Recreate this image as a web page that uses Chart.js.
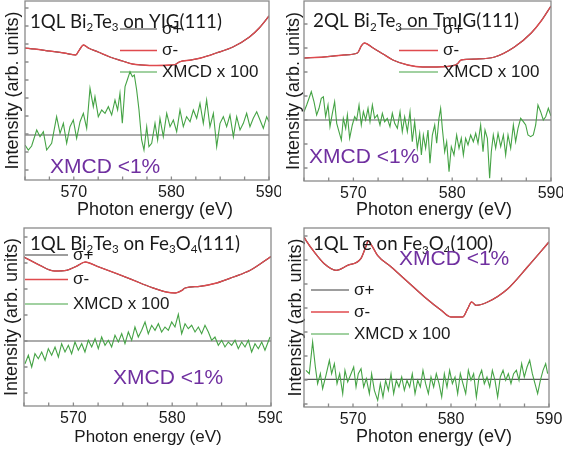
<!DOCTYPE html>
<html lang="en">
<head>
<meta charset="UTF-8">
<title>XMCD at the Te M edge</title>
<script src="https://cdn.jsdelivr.net/npm/chart.js@4.4.1/dist/chart.umd.min.js"></script>
<style>
  body { margin: 0; background: #fff; width: 563px; height: 455px; overflow: hidden; position: relative; }
  canvas { position: absolute; }
</style>
</head>
<body>
<canvas id="p1"></canvas>
<canvas id="p2"></canvas>
<canvas id="p3"></canvas>
<canvas id="p4"></canvas>
<script>
// photon energy axis (eV)
var xMin = 565, xMax = 590;
var xTickLabels = [570, 580, 590];
var xTitle = "Photon energy (eV)";
var yTitle = "Intensity (arb. units)";

var legendLabels = ["σ+", "σ-", "XMCD x 100"];
var noteText = "XMCD <1%";

// panel titles, [text, isSubscript]
var title1 = [["1QL Bi", 0], ["2", 1], ["Te", 0], ["3", 1], [" on YIG(111)", 0]];
var title2 = [["2QL Bi", 0], ["2", 1], ["Te", 0], ["3", 1], [" on TmIG(111)", 0]];
var title3 = [["1QL Bi", 0], ["2", 1], ["Te", 0], ["3", 1], [" on Fe", 0], ["3", 1], ["O", 0], ["4", 1], ["(111)", 0]];
var title4 = [["1QL Te on Fe", 0], ["3", 1], ["O", 0], ["4", 1], ["(100)", 0]];

// [energy, intensity] - sigma+ lies under sigma-, so both use the same curve
var sigma1 = [[565, 13.2], [566, 13.1], [567.5, 12.9], [569, 12.7], [570.2, 12.5], [570.5, 12.9], [571.0, 13.5], [571.5, 13.2],
  [572.5, 12.8], [573.7, 12.3], [575, 11.9], [576, 11.6], [577, 11.5], [578.5, 11.45], [580, 11.5], [580.4, 11.55], [580.8, 11.8],
  [582, 12.0], [583, 12.2], [584.6, 12.7], [586.3, 13.3], [588, 14.3], [589, 15.2], [590, 16.4]];
var xmcd1 = [[565.0, 3.5], [565.34, 3.0], [565.68, 3.4], [566.2, 5.0], [566.54, 4.33], [566.88, 4.83], [567.22, 3.0], [567.73, 3.67],
  [568.24, 6.33], [568.59, 4.67], [568.93, 5.67], [569.27, 3.67], [569.61, 5.33], [569.95, 6.0], [570.29, 4.17], [570.64, 5.83],
  [570.98, 6.67], [571.32, 5.17], [571.66, 9.17], [572.0, 7.33], [572.17, 8.33], [572.51, 6.33], [572.86, 7.0], [573.2, 6.67],
  [573.54, 7.33], [573.88, 6.5], [574.22, 8.0], [574.49, 7.0], [574.73, 8.67], [574.97, 5.67], [575.25, 9.33], [575.48, 10.0],
  [575.76, 10.83], [576.0, 10.33], [576.2, 10.5], [576.44, 9.0], [576.68, 7.0], [576.95, 4.0], [577.19, 3.0], [577.47, 5.33],
  [577.7, 3.33], [577.98, 3.67], [578.32, 5.67], [578.59, 4.0], [578.83, 6.17], [579.17, 4.33], [579.52, 6.67], [579.86, 5.33],
  [580.2, 6.0], [580.54, 4.83], [580.88, 7.0], [581.22, 5.33], [581.56, 6.33], [581.91, 5.83], [582.25, 7.0], [582.59, 6.17],
  [582.93, 7.67], [583.27, 5.67], [583.61, 8.0], [583.95, 5.33], [584.3, 6.67], [584.64, 3.33], [584.98, 5.67], [585.32, 6.33],
  [585.66, 5.33], [586.0, 6.5], [586.35, 4.33], [586.69, 6.33], [587.03, 5.0], [587.37, 5.67], [587.71, 6.67], [588.05, 5.33],
  [588.39, 6.17], [588.74, 6.83], [589.08, 6.0], [589.42, 5.17], [589.76, 6.33], [590.0, 5.83]];
var zero1 = 4.5;

var sigma2 = [[565, 12.3], [567, 12.4], [569, 12.6], [570.4, 12.8], [570.8, 13.5], [571.1, 13.8], [572, 13.3], [573, 12.7],
  [574, 12.1], [575.5, 11.6], [577, 11.4], [579.5, 11.45], [580.5, 11.7], [580.9, 12.1], [582.5, 12.2], [584.3, 12.4],
  [586.3, 13.4], [588, 14.8], [589, 16.0], [590, 17.5]];
var xmcd2 = [[565.0, 6.93], [565.27, 7.6], [565.51, 8.27], [565.74, 8.93], [566.01, 7.93], [566.28, 6.6], [566.52, 7.27],
  [566.75, 8.27], [566.96, 8.43], [567.19, 6.43], [567.43, 7.6], [567.63, 5.43], [567.87, 6.77], [568.1, 7.93], [568.31, 5.77],
  [568.54, 4.93], [568.78, 4.1], [568.98, 6.27], [569.22, 5.27], [569.39, 6.6], [569.62, 4.27], [569.89, 5.6], [570.13, 6.43],
  [570.33, 6.1], [570.57, 7.6], [570.8, 5.6], [571.01, 6.93], [571.24, 6.1], [571.48, 7.27], [571.68, 5.93], [571.92, 7.6],
  [572.15, 6.27], [572.42, 6.6], [572.69, 5.6], [572.93, 6.77], [573.16, 5.93], [573.43, 6.27], [573.7, 5.43], [573.94, 6.77],
  [574.18, 5.77], [574.45, 5.27], [574.72, 6.93], [574.95, 4.93], [575.19, 6.43], [575.46, 4.93], [575.73, 6.93], [575.96, 3.93],
  [576.2, 5.93], [576.47, 3.27], [576.71, 4.77], [576.88, 2.6], [577.08, 4.6], [577.31, 3.27], [577.55, 5.1], [577.75, 1.77],
  [577.99, 4.6], [578.23, 5.6], [578.43, 3.77], [578.66, 6.27], [578.83, 7.27], [579.0, 5.27], [579.24, 2.93], [579.44, 3.93],
  [579.68, 0.93], [579.91, 3.43], [580.18, 2.6], [580.45, 4.6], [580.69, 3.27], [580.92, 4.27], [581.13, 2.6], [581.36, 4.27],
  [581.6, 3.6], [581.87, 4.6], [582.14, 3.93], [582.38, 4.77], [582.61, 3.77], [582.88, 5.6], [583.12, 2.93], [583.32, 5.1],
  [583.56, 4.27], [583.79, 0.27], [583.96, 2.93], [584.16, 4.6], [584.4, 3.27], [584.64, 4.77], [584.91, 3.43], [585.18, 4.6],
  [585.41, 2.6], [585.65, 4.6], [585.92, 3.27], [586.19, 5.6], [586.42, 3.93], [586.66, 5.27], [586.93, 6.27], [587.2, 5.93],
  [587.44, 5.6], [587.67, 4.6], [587.94, 4.43], [588.21, 4.6], [588.45, 5.6], [588.68, 7.6], [588.95, 6.93], [589.22, 6.1],
  [589.46, 6.43], [589.73, 7.27], [590.0, 6.5]];
var zero2 = 6.1;

var sigma3 = [[565, 14.9], [566.6, 14.07], [568.1, 13.5], [569.3, 13.57], [570.3, 13.97], [571.2, 14.4], [572.4, 13.97],
  [574.4, 13.23], [576.1, 12.57], [577.8, 11.9], [579.4, 11.4], [580.3, 11.3], [581.0, 11.57], [581.3, 11.8], [582.8, 11.97],
  [584.5, 12.3], [586.2, 12.9], [587.9, 13.57], [590, 14.95]];
var xmcd3 = [[565.1, 4.23], [565.44, 5.07], [565.78, 3.9], [566.11, 5.23], [566.45, 4.73], [566.79, 5.4], [567.13, 4.57],
  [567.46, 5.73], [567.8, 5.07], [568.14, 5.9], [568.48, 4.9], [568.81, 6.23], [569.15, 5.4], [569.49, 6.07], [569.82, 5.23],
  [570.16, 6.4], [570.5, 5.57], [570.84, 6.23], [571.17, 5.4], [571.51, 6.57], [571.85, 5.9], [572.19, 6.73], [572.52, 5.73],
  [572.86, 6.9], [573.2, 6.07], [573.54, 6.57], [573.87, 5.9], [574.21, 7.07], [574.55, 6.4], [574.89, 7.23], [575.22, 6.23],
  [575.56, 7.4], [575.9, 6.57], [576.23, 7.9], [576.57, 6.9], [576.91, 7.57], [577.25, 8.4], [577.58, 7.23], [577.92, 8.07],
  [578.26, 7.57], [578.6, 8.23], [578.93, 7.4], [579.27, 7.9], [579.61, 7.57], [579.95, 8.4], [580.28, 7.9], [580.62, 9.17],
  [580.96, 7.23], [581.3, 8.23], [581.63, 7.73], [581.97, 8.07], [582.31, 7.4], [582.65, 7.9], [582.98, 7.23], [583.32, 8.07],
  [583.66, 7.4], [583.99, 6.57], [584.33, 6.9], [584.67, 6.07], [585.01, 6.57], [585.34, 5.9], [585.68, 6.4], [586.02, 6.07],
  [586.36, 6.57], [586.69, 5.73], [587.03, 6.4], [587.37, 5.9], [587.71, 6.57], [588.04, 5.4], [588.38, 6.23], [588.72, 5.73],
  [589.06, 6.4], [589.39, 5.57], [589.9, 6.9]];
var zero3 = 6.5;

var sigma4 = [[565, 17.0], [565.2, 16.67], [566.05, 15.5], [567.07, 14.33], [568.27, 13.67], [569.46, 14.17], [570.8, 14.83],
  [571.3, 16.0], [571.56, 16.6], [571.9, 16.17], [572.5, 15.17], [573.9, 14.0], [575.6, 12.5], [577.3, 11.0], [579.0, 9.67],
  [580.0, 9.0], [581.2, 9.0], [581.7, 9.83], [582.1, 10.5], [582.55, 10.17], [583.74, 10.5], [585.8, 11.83], [587.8, 14.0],
  [590, 16.5]];
var xmcd4 = [[565.2, 3.67], [565.54, 3.33], [565.88, 6.5], [566.16, 4.0], [566.39, 2.33], [566.67, 3.33], [566.9, 1.83],
  [567.24, 3.17], [567.59, 4.67], [567.82, 3.33], [568.1, 4.33], [568.37, 2.33], [568.64, 3.33], [568.95, 1.33], [569.18, 3.67],
  [569.46, 2.5], [569.8, 3.33], [570.07, 4.0], [570.31, 2.0], [570.54, 3.33], [570.82, 3.83], [571.09, 2.0], [571.36, 2.83],
  [571.67, 1.33], [571.9, 3.33], [572.18, 1.67], [572.52, 0.67], [572.79, 2.33], [573.06, 1.0], [573.33, 2.67], [573.61, 1.67],
  [573.88, 3.33], [574.15, 1.33], [574.42, 2.67], [574.69, 2.0], [574.97, 3.0], [575.24, 1.67], [575.51, 2.67], [575.78, 2.0],
  [576.05, 3.33], [576.33, 1.33], [576.6, 2.67], [576.87, 2.0], [577.14, 3.67], [577.41, 2.33], [577.69, 1.33], [577.96, 3.0],
  [578.23, 2.0], [578.5, 3.33], [578.78, 2.33], [579.05, 1.0], [579.32, 3.33], [579.59, 2.0], [579.86, 3.67], [580.14, 2.33],
  [580.41, 3.0], [580.68, 1.33], [580.95, 3.33], [581.22, 2.33], [581.5, 1.33], [581.77, 3.67], [582.04, 2.67], [582.31, 3.33],
  [582.59, 1.0], [582.86, 3.0], [583.13, 3.67], [583.4, 2.33], [583.67, 3.0], [583.95, 2.0], [584.22, 3.67], [584.49, 2.67],
  [584.76, 1.0], [585.03, 3.0], [585.31, 3.67], [585.58, 2.67], [585.85, 3.33], [586.12, 2.33], [586.39, 3.33], [586.67, 3.67],
  [586.94, 2.67], [587.21, 4.33], [587.48, 3.0], [587.76, 4.0], [588.03, 4.67], [588.3, 3.33], [588.57, 2.33], [588.84, 1.33],
  [589.12, 2.67], [589.39, 3.67], [589.66, 4.33], [589.86, 3.33]];
var zero4 = 2.77;

var FONT = '"Liberation Sans", Arial, sans-serif';
var TITLE_FONT = 'Lato, "Open Sans", sans-serif';
var INK = "#1a1a1a";
var PURPLE = "#7030a0";

// layout of the four panels (canvas box, plot area, decorations)
var panels = [
  { id: "p1", title: title1, sigma: sigma1, xmcd: xmcd1, zero: zero1,
    left: 0, top: 0, w: 281, h: 227, yW: 25, padT: 1, padR: 12, xH: 47, yMax: 17.9, yT0: 1.0, yStep: 1.8,
    yTitlePad: 2.2, xtX: 155, xtY: 210, xTitleSize: 18,
    tX: 30, tY: 27.5, tW: 192, nX: 50, nY: 173, lX: 120, lW: 37, lY: 29, lGap: 21.5 },
  { id: "p2", title: title2, sigma: sigma2, xmcd: xmcd2, zero: zero2,
    left: 282, top: 0, w: 281, h: 227, yW: 22, padT: 1, padR: 12, xH: 46, yMax: 18.0, yT0: 1.3, yStep: 2.4,
    yTitlePad: 1.2, xtX: 152, xtY: 210, xTitleSize: 18,
    tX: 31, tY: 27, tW: 206, nX: 27, nY: 163, lX: 117, lW: 39, lY: 29, lGap: 21.5 },
  { id: "p3", title: title3, sigma: sigma3, xmcd: xmcd3, zero: zero3,
    left: 0, top: 227, w: 282, h: 228, yW: 24, padT: 1, padR: 11, xH: 49, yMax: 17.8, yT0: 1.3, yStep: 2.6,
    yTitlePad: 1.7, xtX: 148, xtY: 210, xTitleSize: 17,
    tX: 30, tY: 22.5, tW: 210, nX: 113, nY: 157, lX: 25, lW: 43, lY: 28, lGap: 24.5 },
  { id: "p4", title: title4, sigma: sigma4, xmcd: xmcd4, zero: zero4,
    left: 282, top: 227, w: 281, h: 228, yW: 22, padT: 1, padR: 14, xH: 48, yMax: 17.9, yT0: 0.3, yStep: 2.4,
    yTitlePad: 3.2, xtX: 152, xtY: 210, xTitleSize: 18,
    tX: 31, tY: 23, tW: 180, nX: 117, nY: 38, lX: 29, lW: 38, lY: 63, lGap: 22 }
];

function richWidth(ctx, parts, size) {
  var w = 0;
  parts.forEach(function (p) {
    ctx.font = (p[1] ? size * 0.62 : size) + "px " + TITLE_FONT;
    w += ctx.measureText(p[0]).width;
  });
  return w;
}

function drawRich(ctx, parts, x, y, size) {
  parts.forEach(function (p) {
    ctx.font = (p[1] ? size * 0.62 : size) + "px " + TITLE_FONT;
    ctx.fillText(p[0], x, p[1] ? y + size * 0.2 : y);
    x += ctx.measureText(p[0]).width;
  });
}

function toXY(arr) {
  return arr.map(function (d) { return { x: d[0], y: d[1] }; });
}

function makeChart(p) {
  var cv = document.getElementById(p.id);
  cv.width = p.w;
  cv.height = p.h;
  cv.style.left = p.left + "px";
  cv.style.top = p.top + "px";

  var deco = {
    id: "deco" + p.id,
    afterDatasetsDraw: function (chart) {
      var ctx = chart.ctx, a = chart.chartArea;
      var xs = chart.scales.x, ys = chart.scales.y;
      ctx.save();
      ctx.strokeStyle = "#8a8a8a";
      ctx.lineWidth = 1.3;
      ctx.strokeRect(a.left, a.top, a.right - a.left, a.bottom - a.top);
      // inward tick marks
      ctx.beginPath();
      for (var v = xMin; v <= xMax; v += 2.5) {
        var px = xs.getPixelForValue(v);
        ctx.moveTo(px, a.bottom);
        ctx.lineTo(px, a.bottom - 3.5);
      }
      for (var t = p.yT0; t < p.yMax; t += p.yStep) {
        var py = ys.getPixelForValue(t);
        ctx.moveTo(a.left, py);
        ctx.lineTo(a.left + 3.5, py);
      }
      ctx.stroke();
      ctx.restore();
    },
    afterDraw: function (chart) {
      var ctx = chart.ctx;
      ctx.save();
      ctx.fillStyle = INK;
      // x axis title, a little right of the plot centre as in the figure
      ctx.font = p.xTitleSize + "px " + FONT;
      ctx.textAlign = "center";
      ctx.textBaseline = "middle";
      ctx.fillText(xTitle, p.xtX, p.xtY);
      ctx.textAlign = "left";

      ctx.textBaseline = "alphabetic";
      var size = 21 * p.tW / richWidth(ctx, p.title, 21);
      drawRich(ctx, p.title, p.tX, p.tY, size);

      ctx.fillStyle = PURPLE;
      ctx.font = "21px " + FONT;
      ctx.fillText(noteText, p.nX, p.nY);

      ctx.font = "17px " + FONT;
      ctx.textBaseline = "middle";
      var row = 0;
      chart.data.datasets.forEach(function (ds) {
        if (!ds.label) return;
        var y = p.lY + row * p.lGap;
        ctx.strokeStyle = ds.borderColor;
        ctx.lineWidth = ds.borderWidth;
        ctx.beginPath();
        ctx.moveTo(p.lX, y);
        ctx.lineTo(p.lX + p.lW, y);
        ctx.stroke();
        ctx.fillStyle = INK;
        ctx.fillText(ds.label, p.lX + p.lW + 5, y);
        row++;
      });
      ctx.restore();
    }
  };

  new Chart(cv, {
    type: "line",
    data: {
      datasets: [
        { label: legendLabels[0], data: toXY(p.sigma), borderColor: "#3c3c3c", borderWidth: 1.2, order: 3, cubicInterpolationMode: "monotone" },
        { label: legendLabels[1], data: toXY(p.sigma), borderColor: "#e04a4e", borderWidth: 1.3, order: 1, cubicInterpolationMode: "monotone" },
        { label: legendLabels[2], data: toXY(p.xmcd), borderColor: "#45a345", borderWidth: 1.1, order: 0 },
        { label: "", data: [{ x: xMin, y: p.zero }, { x: xMax, y: p.zero }], borderColor: "#5a5a5a", borderWidth: 1.2, order: 2 }
      ]
    },
    options: {
      responsive: false,
      animation: false,
      events: [],
      layout: { padding: { left: 0, top: p.padT, right: p.padR, bottom: 0 } },
      elements: { point: { radius: 0 }, line: { tension: 0 } },
      plugins: { legend: { display: false }, tooltip: { enabled: false } },
      scales: {
        x: {
          type: "linear", min: xMin, max: xMax,
          afterBuildTicks: function (s) { s.ticks = xTickLabels.map(function (v) { return { value: v }; }); },
          grid: { display: false, drawTicks: false },
          border: { display: false },
          ticks: { font: { family: FONT, size: 16 }, color: INK, padding: 3, maxRotation: 0, autoSkip: false },
          afterFit: function (s) { s.height = p.xH; s.paddingLeft = 0; s.paddingRight = 0; }
        },
        y: {
          min: 0, max: p.yMax,
          grid: { display: false, drawTicks: false },
          border: { display: false },
          ticks: { display: false },
          title: { display: true, text: yTitle, font: { family: FONT, size: 18 }, color: INK,
            padding: { top: p.yTitlePad, bottom: 0 } },
          afterFit: function (s) { s.width = p.yW; s.paddingTop = 0; s.paddingBottom = 0; }
        }
      }
    },
    plugins: [deco]
  });
}

panels.forEach(makeChart);
</script>
</body>
</html>
